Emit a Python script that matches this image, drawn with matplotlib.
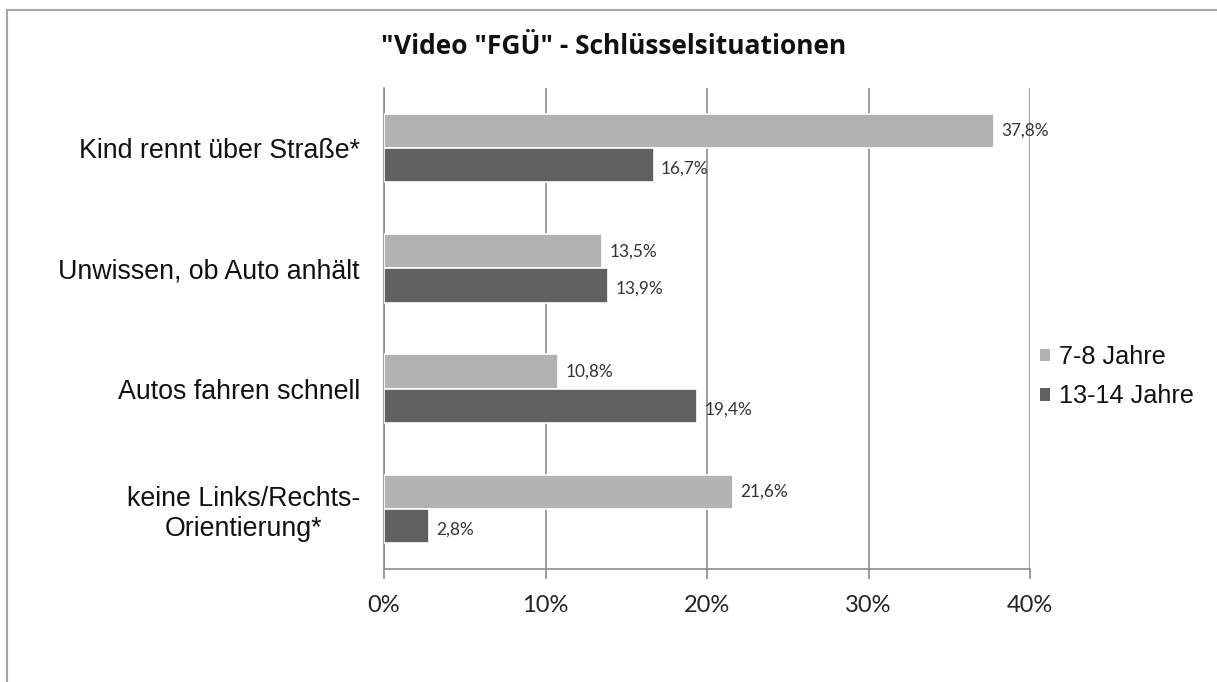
import matplotlib.pyplot as plt
import matplotlib.patches as mpatches
import matplotlib.transforms as mtransforms
import numpy as np
from matplotlib.ticker import FuncFormatter

categories = [
    "Kind rennt über Straße*",
    "Unwissen, ob Auto anhält",
    "Autos fahren schnell",
    "keine Links/Rechts-\nOrientierung*",
]
young = [37.8, 13.5, 10.8, 21.6]
older = [16.7, 13.9, 19.4, 2.8]
series_names = ["7-8 Jahre", "13-14 Jahre"]
title = '"Video "FGÜ" - Schlüsselsituationen'

LIGHT = "#b2b2b2"
DARK = "#606060"
GRID = "#8c8c8c"


def fmt_pct(v):
    return f"{v:.1f}%".replace(".", ",")


def main():
    fig = plt.figure(figsize=(12.17, 6.82), dpi=100)
    ax = fig.add_axes([384 / 1217, 1 - 569 / 682, 646 / 1217, 481 / 682])

    # outer chart frame (only left and top edges visible)
    fig.patches.append(mpatches.Rectangle(
        (7 / 1217, -0.05), 1.0, 1 - 10 / 682 + 0.05,
        transform=fig.transFigure, fill=False, edgecolor="#a6a6a6", lw=1.5))

    n = len(categories)
    y = np.arange(n)
    h = 0.285
    ax.barh(y - h / 2, young, height=h, color=LIGHT, edgecolor="white",
            lw=1.2, label=series_names[0], zorder=3)
    ax.barh(y + h / 2, older, height=h, color=DARK, edgecolor="white",
            lw=1.2, label=series_names[1], zorder=3)

    # value labels
    for i in range(n):
        ax.text(young[i] + 0.45, y[i] - h / 2, fmt_pct(young[i]),
                va="center", ha="left", fontsize=12.4, family="Lato",
                color="#333333", zorder=4)
        ax.text(older[i] + 0.45, y[i] + h / 2 + 0.03, fmt_pct(older[i]),
                va="center", ha="left", fontsize=12.4, family="Lato",
                color="#333333", zorder=4)

    ax.set_ylim(n - 0.5, -0.5)
    ax.set_xlim(0, 40)
    ax.set_xticks([0, 10, 20, 30, 40])
    ax.xaxis.set_major_formatter(FuncFormatter(lambda x, _: f"{x:.0f}%"))
    ax.set_yticks(y)
    ax.set_yticklabels(categories, family="Liberation Sans", fontsize=19.3,
                       color="#111111", ha="center", multialignment="center")
    for lab in ax.get_xticklabels():
        lab.set_family("Lato")
        lab.set_fontsize(17)
        lab.set_color("#222222")

    ax.grid(axis="x", color=GRID, lw=1.2, zorder=0)
    for s in ["top", "right"]:
        ax.spines[s].set_visible(False)
    for s in ["left", "bottom"]:
        ax.spines[s].set_color(GRID)
        ax.spines[s].set_linewidth(1.2)
    ax.tick_params(axis="x", length=7, color=GRID, width=1.2, pad=12)
    ax.tick_params(axis="y", length=0)

    # right-align the block of category labels, lines centered inside
    fig.canvas.draw()
    r = fig.canvas.get_renderer()
    for lab in ax.get_yticklabels():
        bb = lab.get_window_extent(r)
        shift = 360 - bb.x1
        lab.set_transform(lab.get_transform()
                          + mtransforms.Affine2D().translate(shift, 0))

    fig.text(614 / 1217, 1 - 47 / 682, title, ha="center", va="center",
             fontsize=19, fontweight="bold", family="Open Sans",
             color="#111111")

    leg = ax.legend(loc="center left", bbox_to_anchor=(1.0155, 0.40),
                    frameon=False, prop={"family": "Liberation Sans",
                                         "size": 18.2},
                    borderaxespad=0, borderpad=0,
                    handlelength=0.4, handleheight=0.4, handletextpad=0.35,
                    labelspacing=0.6)
    for t in leg.get_texts():
        t.set_color("#111111")
    for p in leg.get_patches():
        p.set_edgecolor("none")

    fig.savefig("out.png", dpi=100)


if __name__ == "__main__":
    main()
